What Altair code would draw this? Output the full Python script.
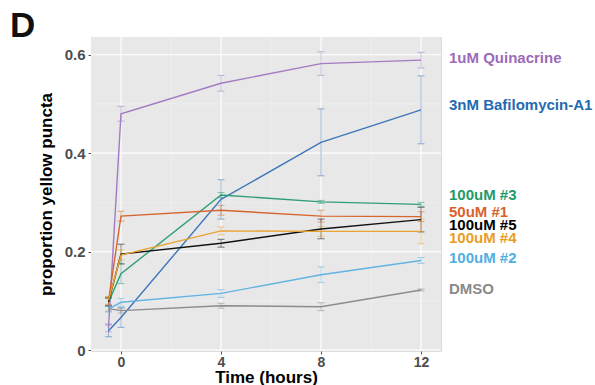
import altair as alt
import pandas as pd

times = [-0.5, 0, 4, 8, 12]

names = ["1uM Quinacrine", "3nM Bafilomycin-A1", "100uM #3", "50uM #1",
         "100uM #5", "100uM #4", "100uM #2", "DMSO"]
colors = ["#A27BC2", "#3F76BA", "#2E9E74", "#D6662E",
          "#111111", "#E9A331", "#62B3E3", "#8C8C8C"]
label_colors = ["#9B6BBA", "#1F6BB0", "#1E9A6A", "#D9622B",
                "#000000", "#E89E25", "#4FAFE3", "#8A8A8A"]

quinacrine = [0.045, 0.480, 0.542, 0.582, 0.589]
quinacrine_err = [0.008, 0.015, 0.016, 0.024, 0.016]
bafilomycin = [0.039, 0.066, 0.306, 0.422, 0.488]
bafilomycin_err = [0.012, 0.020, 0.040, 0.068, 0.069]
um100_3 = [0.097, 0.155, 0.315, 0.301, 0.296]
um100_3_err = [0.008, 0.020, 0.005, 0.003, 0.004]
um50_1 = [0.100, 0.272, 0.284, 0.272, 0.271]
um50_1_err = [0.008, 0.010, 0.010, 0.012, 0.010]
um100_5 = [0.098, 0.195, 0.217, 0.246, 0.265]
um100_5_err = [0.008, 0.020, 0.008, 0.020, 0.025]
um100_4 = [0.101, 0.193, 0.242, 0.241, 0.241]
um100_4_err = [0.008, 0.010, 0.008, 0.010, 0.025]
um100_2 = [0.083, 0.097, 0.115, 0.153, 0.182]
um100_2_err = [0.006, 0.008, 0.008, 0.016, 0.006]
dmso = [0.084, 0.080, 0.090, 0.088, 0.122]
dmso_err = [0.005, 0.005, 0.005, 0.008, 0.002]

label_y = [0.594, 0.497, 0.314, 0.280, 0.253, 0.227, 0.186, 0.124]

x_major = [0, 4, 8, 12]
x_minor = [2, 6, 10]
y_major = [0, 0.2, 0.4, 0.6]
y_minor = [0.1, 0.3, 0.5]

series = [quinacrine, bafilomycin, um100_3, um50_1, um100_5, um100_4, um100_2, dmso]
errs = [quinacrine_err, bafilomycin_err, um100_3_err, um50_1_err,
        um100_5_err, um100_4_err, um100_2_err, dmso_err]

rows = []
for i, (n, vals, es) in enumerate(zip(names, series, errs)):
    for t, v, e in zip(times, vals, es):
        rows.append({"name": n, "order": i, "t": t, "v": v, "lo": v - e, "hi": v + e})
df = pd.DataFrame(rows)

xdom = [-1.2, 12.8]
ydom = [-0.002, 0.636]
W, H = 350, 314
FONT = "Liberation Sans"

xs = alt.Scale(domain=xdom, nice=False, zero=False)
ys = alt.Scale(domain=ydom, nice=False, zero=False)
cs = alt.Scale(domain=names, range=colors)

bg = alt.Chart(pd.DataFrame({"a": [0]})).mark_rect(color="#E8E8E8").encode(
    x=alt.value(0), x2=alt.value(W), y=alt.value(0), y2=alt.value(H))

vminor = alt.Chart(pd.DataFrame({"t": x_minor})).mark_rule(
    color="#F2F2F2", strokeWidth=0.6).encode(x=alt.X("t:Q", scale=xs))
hminor = alt.Chart(pd.DataFrame({"v": y_minor})).mark_rule(
    color="#F2F2F2", strokeWidth=0.6).encode(y=alt.Y("v:Q", scale=ys))
vmajor = alt.Chart(pd.DataFrame({"t": x_major})).mark_rule(
    color="#FFFFFF", strokeWidth=1.1).encode(x=alt.X("t:Q", scale=xs))
hmajor = alt.Chart(pd.DataFrame({"v": y_major})).mark_rule(
    color="#FFFFFF", strokeWidth=1.1).encode(y=alt.Y("v:Q", scale=ys))

base = alt.Chart(df)

x_enc = alt.X("t:Q", scale=xs, title="Time (hours)",
              axis=alt.Axis(values=x_major, grid=False, domain=False,
                            tickColor="#555555", tickSize=3, labelPadding=1,
                            labelFont=FONT, labelFontSize=14, labelFontWeight="bold",
                            labelColor="#4D4D4D", titleFont=FONT, titleFontSize=17,
                            titleFontWeight="bold", titleColor="#000000",
                            titlePadding=0))
y_enc = alt.Y("v:Q", scale=ys, title="proportion yellow puncta",
              axis=alt.Axis(values=y_major, grid=False, domain=False,
                            tickColor="#555555", tickSize=3, labelPadding=3,
                            labelFont=FONT, labelFontSize=15, labelFontWeight="bold",
                            labelColor="#4D4D4D", titleFont=FONT, titleFontSize=17,
                            titleFontWeight="bold", titleColor="#000000",
                            titlePadding=9,
                            labelExpr="datum.value == 0 ? '0' : format(datum.value, '.1f')"))

color_enc = alt.Color("name:N", scale=cs, legend=None)

err_rule = base.mark_rule(strokeWidth=1, opacity=0.5).encode(
    x=alt.X("t:Q", scale=xs), y=alt.Y("lo:Q", scale=ys), y2="hi:Q", color=color_enc)
cap_lo = base.mark_tick(size=7, thickness=1, orient="horizontal", opacity=0.55).encode(
    x=alt.X("t:Q", scale=xs), y=alt.Y("lo:Q", scale=ys), color=color_enc)
cap_hi = base.mark_tick(size=7, thickness=1, orient="horizontal", opacity=0.55).encode(
    x=alt.X("t:Q", scale=xs), y=alt.Y("hi:Q", scale=ys), color=color_enc)

lines = base.mark_line(strokeWidth=1.4).encode(
    x=x_enc, y=y_enc, color=color_enc, detail="name:N", order="t:Q")

lab_df = pd.DataFrame({"name": names, "y": label_y, "c": label_colors})
labels = alt.Chart(lab_df).mark_text(
    align="left", baseline="middle", font=FONT, fontSize=15, fontWeight="bold"
).encode(
    x=alt.value(W + 8), y=alt.Y("y:Q", scale=ys),
    text="name:N",
    color=alt.Color("c:N", scale=None, legend=None))

panel = alt.Chart(pd.DataFrame({"s": ["D"]})).mark_text(
    align="left", baseline="alphabetic", font=FONT, fontSize=35, fontWeight="bold",
    color="#111111").encode(x=alt.value(-81), y=alt.value(0), text="s:N")

chart = alt.layer(
    bg, vminor, hminor, vmajor, hmajor, err_rule, cap_lo, cap_hi, lines, labels, panel
).properties(
    width=W, height=H,
    autosize=alt.AutoSizeParams(type="none"),
    padding={"left": 91, "top": 37, "right": 154, "bottom": 34},
).configure_view(stroke=None).configure(background="#FFFFFF")

chart.save("out.html", embed_options={"renderer": "svg", "actions": False})
